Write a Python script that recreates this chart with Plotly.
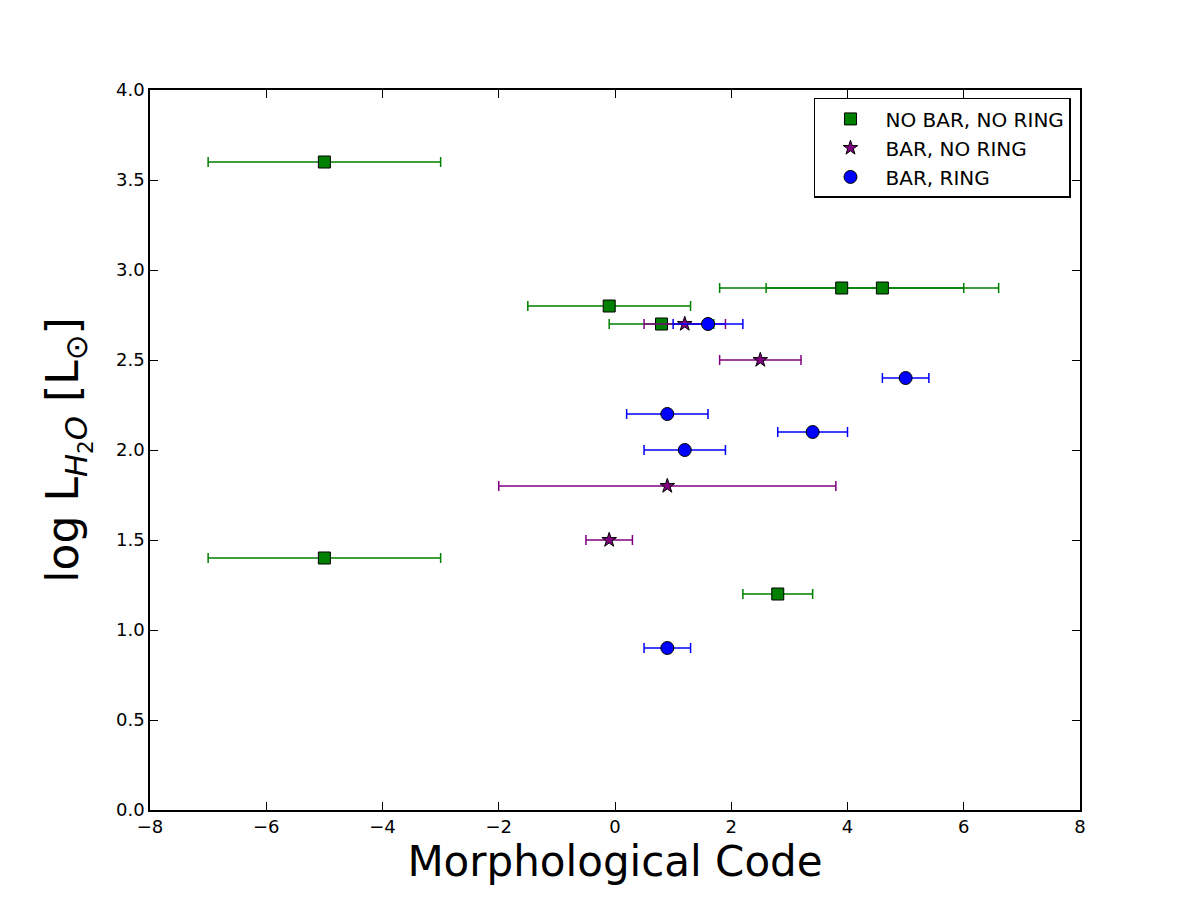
import plotly.graph_objects as go

# NO BAR, NO RING
nbnr_x = [-5.0, -0.1, 0.8, 3.9, 4.6, -5.0, 2.8]
nbnr_y = [3.6, 2.8, 2.7, 2.9, 2.9, 1.4, 1.2]
nbnr_err = [2.0, 1.4, 0.9, 2.1, 2.0, 2.0, 0.6]

# BAR, NO RING
bnr_x = [1.2, 2.5, 0.9, -0.1]
bnr_y = [2.7, 2.5, 1.8, 1.5]
bnr_err = [0.7, 0.7, 2.9, 0.4]

# BAR, RING
br_x = [1.6, 5.0, 0.9, 3.4, 1.2, 0.9]
br_y = [2.7, 2.4, 2.2, 2.1, 2.0, 0.9]
br_err = [0.6, 0.4, 0.7, 0.6, 0.7, 0.4]

x_ticks = [-8, -6, -4, -2, 0, 2, 4, 6, 8]
y_ticks = [0.0, 0.5, 1.0, 1.5, 2.0, 2.5, 3.0, 3.5, 4.0]

fig = go.Figure()

def add(xs, ys, errs, name, color, symbol, size):
    fig.add_trace(go.Scatter(
        x=xs, y=ys, mode="markers", name=name,
        marker=dict(color=color, symbol=symbol, size=size,
                    line=dict(color="black", width=1)),
        error_x=dict(type="data", array=errs, visible=True,
                     color=color, thickness=1.5, width=5),
    ))

add(nbnr_x, nbnr_y, nbnr_err, "NO BAR, NO RING", "green", "square", 12)
add(bnr_x, bnr_y, bnr_err, "BAR, NO RING", "purple", "star", 11)
add(br_x, br_y, br_err, "BAR, RING", "blue", "circle", 13)

axis_common = dict(
    showgrid=False, zeroline=False, showline=True, linecolor="black",
    linewidth=1.5, mirror="ticks", ticks="inside", ticklen=8,
    tickcolor="black", tickfont=dict(family="DejaVu Sans", size=18, color="black"),
)

fig.update_layout(
    width=1200, height=900,
    margin=dict(l=150, r=120, t=90, b=90),
    paper_bgcolor="white", plot_bgcolor="white",
    font=dict(family="DejaVu Sans", color="black"),
    xaxis=dict(range=[-8, 8], tickvals=x_ticks,
               ticktext=[str(v).replace("-", "\u2212") for v in x_ticks],
               title=dict(text="Morphological Code",
                          font=dict(size=42), standoff=10),
               **axis_common),
    yaxis=dict(range=[0, 4], tickvals=y_ticks,
               ticktext=[f"{v:.1f}" for v in y_ticks],
               title=dict(text="log L<sub><i>H</i><sub>2</sub><i>O</i></sub> [L<sub>\u2299</sub>]",
                          font=dict(size=44), standoff=24),
               **axis_common),
    legend=dict(x=0.9903, y=0.989, xanchor="right", yanchor="top",
                bordercolor="black", borderwidth=1.5, bgcolor="white",
                font=dict(size=20, family="DejaVu Sans"),
                itemwidth=60, tracegroupgap=2),
    showlegend=True,
)

fig.write_html("out.html")
